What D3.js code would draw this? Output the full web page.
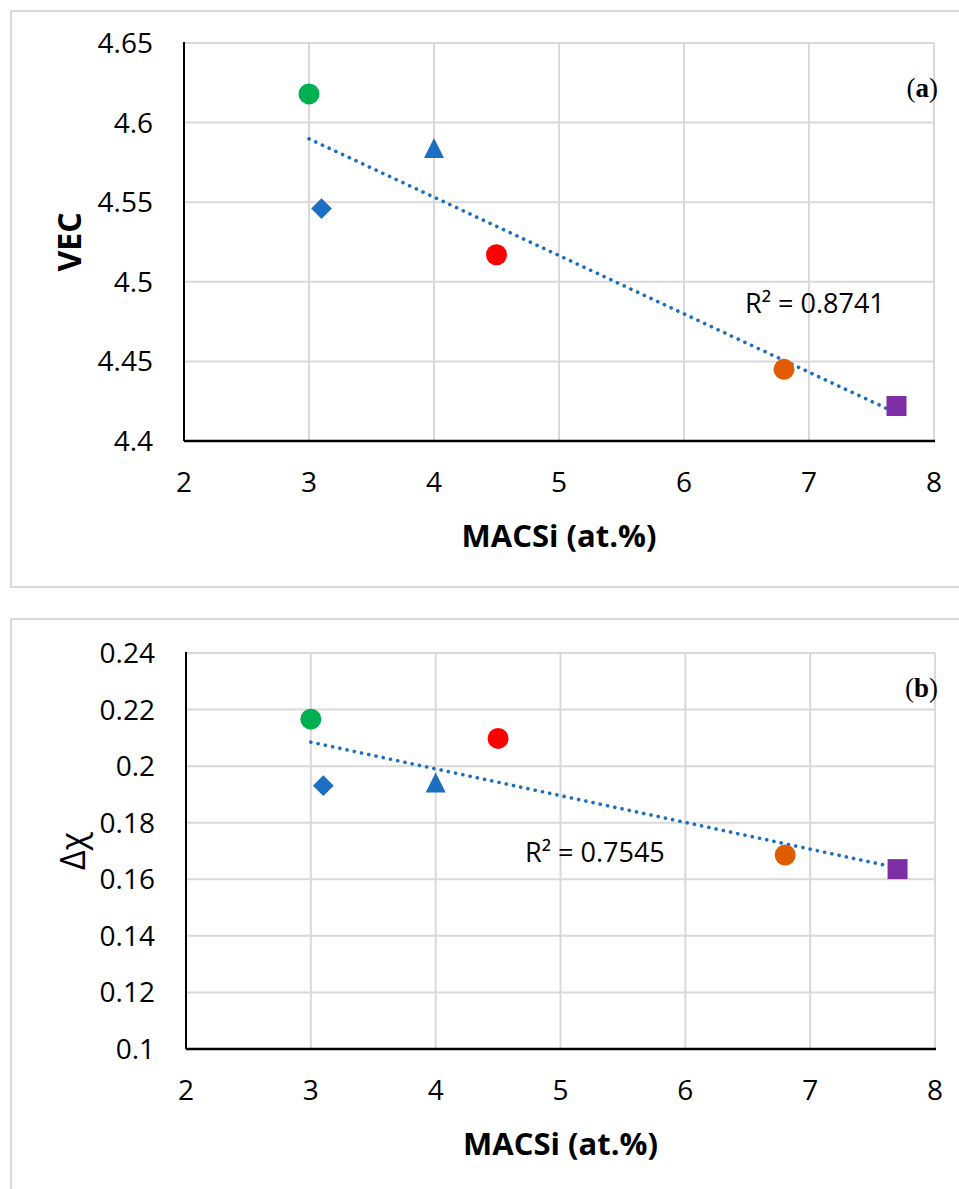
<!DOCTYPE html>
<html>
<head>
<meta charset="utf-8">
<script src="https://cdn.jsdelivr.net/npm/d3@7"></script>
<style>
  body { margin: 0; background: #fff; }
  text { font-family: "Open Sans", "Liberation Sans", sans-serif; fill: #000; }
</style>
</head>
<body>
<div id="chart"></div>
<script>
// DATA
const macsi = [3, 3.1, 4, 4.5, 6.8, 7.7];
const vec = [4.618, 4.546, 4.584, 4.517, 4.445, 4.422];
const deltaChi = [0.2166, 0.1931, 0.1942, 0.2098, 0.1686, 0.1636];
const markerShapes = ['circle', 'diamond', 'triangle', 'circle', 'circle', 'square'];
const xTicks = [2, 3, 4, 5, 6, 7, 8];
const vecTicks = [4.4, 4.45, 4.5, 4.55, 4.6, 4.65];
const chiTicks = [0.1, 0.12, 0.14, 0.16, 0.18, 0.2, 0.22, 0.24];
const r2Labels = ['R\u00B2 = 0.8741', 'R\u00B2 = 0.7545'];
const xTitle = 'MACSi (at.%)';

// colours of the markers
const markerColors = ['#00B050', '#1B6EC2', '#1B6EC2', '#FF0000', '#E05C00', '#7F2FA5'];
const trendColor = '#1B6EC2';
const gridColor = '#d9d9d9';

const width = 959, height = 1189;

const svg = d3.select('#chart').append('svg')
  .attr('width', width)
  .attr('height', height);

// custom triangle like excel marker (box centred)
const triangleSym = {
  draw(ctx, size) {
    const h = Math.sqrt(size) / 2;
    ctx.moveTo(0, -h);
    ctx.lineTo(h, h);
    ctx.lineTo(-h, h);
    ctx.closePath();
  }
};

function symbolPath(shape) {
  if (shape === 'circle') return d3.symbol(d3.symbolCircle, Math.PI * 10.5 * 10.5)();
  if (shape === 'square') return d3.symbol(d3.symbolSquare, 400)();
  if (shape === 'diamond') return d3.symbol(d3.symbolSquare, 215)();
  return d3.symbol(triangleSym, 400)();
}

// least squares fit
function fit(xs, ys) {
  const mx = d3.mean(xs), my = d3.mean(ys);
  let sxy = 0, sxx = 0;
  xs.forEach((x, i) => { sxy += (x - mx) * (ys[i] - my); sxx += (x - mx) * (x - mx); });
  const b = sxy / sxx;
  return x => my + b * (x - mx);
}

function drawPanel(opt) {
  const g = svg.append('g');

  // panel frame
  g.append('rect')
    .attr('x', 11).attr('y', opt.frameTop)
    .attr('width', 980).attr('height', opt.frameH)
    .attr('fill', 'none')
    .attr('stroke', gridColor)
    .attr('stroke-width', 2);

  const x = d3.scaleLinear().domain([2, 8]).range([opt.left, opt.right]);
  const y = d3.scaleLinear().domain(d3.extent(opt.yTicks)).range([opt.bottom, opt.top]);

  // grid
  g.append('g').selectAll('line.h')
    .data(opt.yTicks.slice(1))
    .enter().append('line')
    .attr('x1', opt.left).attr('x2', opt.right)
    .attr('y1', d => y(d)).attr('y2', d => y(d))
    .attr('stroke', gridColor).attr('stroke-width', 2);

  g.append('g').selectAll('line.v')
    .data(xTicks.slice(1))
    .enter().append('line')
    .attr('x1', d => x(d)).attr('x2', d => x(d))
    .attr('y1', opt.top).attr('y2', opt.bottom)
    .attr('stroke', gridColor).attr('stroke-width', 2);

  // axes lines
  g.append('line')
    .attr('x1', opt.left).attr('x2', opt.left)
    .attr('y1', opt.top - 1).attr('y2', opt.bottom)
    .attr('stroke', '#000').attr('stroke-width', 2);
  g.append('line')
    .attr('x1', opt.left).attr('x2', opt.right + 1)
    .attr('y1', opt.bottom).attr('y2', opt.bottom)
    .attr('stroke', '#000').attr('stroke-width', 2.5);

  // tick labels
  g.append('g').selectAll('text')
    .data(opt.yTicks)
    .enter().append('text')
    .attr('x', opt.left - 31)
    .attr('y', d => y(d) + 10)
    .attr('text-anchor', 'end')
    .style('font-size', '28px')
    .text(d => d3.format('')(d));

  g.append('g').selectAll('text')
    .data(xTicks)
    .enter().append('text')
    .attr('x', d => x(d))
    .attr('y', opt.bottom + 51)
    .attr('text-anchor', 'middle')
    .style('font-size', '28px')
    .text(d => d);

  // axis titles
  g.append('text')
    .attr('x', (opt.left + opt.right) / 2)
    .attr('y', opt.bottom + 106)
    .attr('text-anchor', 'middle')
    .style('font-size', '31px')
    .style('font-weight', 'bold')
    .text(xTitle);

  g.append('text')
    .attr('transform', `translate(${opt.yTitleX},${(opt.top + opt.bottom) / 2}) rotate(-90)`)
    .attr('text-anchor', 'middle')
    .attr('dominant-baseline', 'central')
    .style('font-size', opt.yTitleSize)
    .style('font-weight', opt.yTitleWeight)
    .text(opt.yTitle);

  // trendline
  const f = fit(macsi, opt.values);
  const xr = d3.extent(macsi);
  g.append('line')
    .attr('x1', x(xr[0])).attr('y1', y(f(xr[0])))
    .attr('x2', x(xr[1])).attr('y2', y(f(xr[1])))
    .attr('stroke', trendColor)
    .attr('stroke-width', 3.6)
    .attr('stroke-linecap', 'round')
    .attr('stroke-dasharray', '0.1 7.3');

  // markers
  g.append('g').selectAll('path')
    .data(macsi.map((m, i) => ({ x: m, y: opt.values[i], shape: markerShapes[i], c: markerColors[i] })))
    .enter().append('path')
    .attr('d', d => symbolPath(d.shape))
    .attr('transform', d => `translate(${x(d.x)},${y(d.y)})` + (d.shape === 'diamond' ? ' rotate(45)' : ''))
    .attr('fill', d => d.c);

  // R2 label
  g.append('text')
    .attr('x', opt.r2x).attr('y', opt.r2y)
    .style('font-size', '27px')
    .text(opt.r2);

  // panel letter
  const lab = g.append('text')
    .attr('x', 938).attr('y', opt.letterY)
    .attr('text-anchor', 'end')
    .style('font-family', '"Liberation Serif", "DejaVu Serif", serif')
    .style('font-size', '27px');
  lab.append('tspan').text('(');
  lab.append('tspan').style('font-weight', 'bold').text(opt.letter);
  lab.append('tspan').text(')');
}

drawPanel({
  frameTop: 11, frameH: 576,
  left: 184, right: 934, top: 43, bottom: 441,
  yTicks: vecTicks, values: vec,
  yTitle: 'VEC', yTitleX: 68, yTitleSize: '32px', yTitleWeight: 'bold',
  r2: r2Labels[0], r2x: 745, r2y: 313,
  letter: 'a', letterY: 97
});

drawPanel({
  frameTop: 619, frameH: 600,
  left: 186, right: 935, top: 653, bottom: 1049,
  yTicks: chiTicks, values: deltaChi,
  yTitle: '\u0394\u03C7', yTitleX: 72, yTitleSize: '34px', yTitleWeight: 'normal',
  r2: r2Labels[1], r2x: 525, r2y: 862,
  letter: 'b', letterY: 697
});
</script>
</body>
</html>
